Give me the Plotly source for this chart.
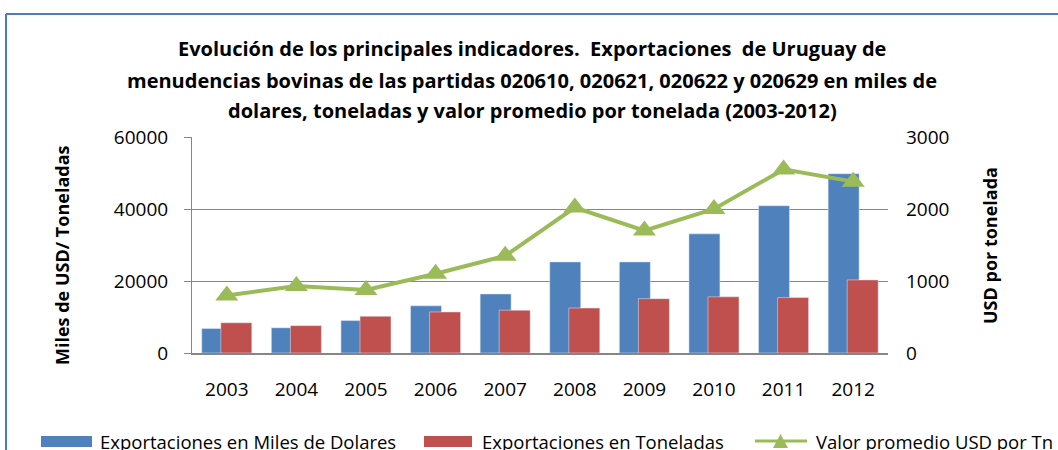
import plotly.graph_objects as go

years = ['2003', '2004', '2005', '2006', '2007', '2008', '2009', '2010', '2011', '2012']
miles_usd = [6800, 7000, 9000, 13100, 16400, 25300, 25300, 33100, 40900, 49800]
toneladas = [8400, 7600, 10200, 11400, 11900, 12500, 15100, 15600, 15400, 20300]
valor_promedio = [800, 930, 875, 1100, 1350, 2020, 1700, 2000, 2550, 2380]

title_lines = [
    "Evolución de los principales indicadores.  Exportaciones  de Uruguay de",
    "menudencias bovinas de las partidas 020610, 020621, 020622 y 020629 en miles de",
    "dolares, toneladas y valor promedio por tonelada (2003-2012)",
]
legend_names = ["Exportaciones en Miles de Dolares", "Exportaciones en Toneladas", "Valor promedio USD por Tn"]

BLUE = '#4F81BD'
RED = '#C0504D'
GREEN = '#9BBB59'
GRID = '#868686'
FONT = 'Open Sans'

W, H = 1058, 450
L, R, T, B = 192, 888, 137, 353


def px(x):
    return (x - L) / (R - L)


def py(y):
    return (B - y) / (B - T)


fig = go.Figure()
fig.add_trace(go.Bar(x=years, y=miles_usd, name=legend_names[0], marker_color=BLUE,
                     width=0.445, offset=-0.36, showlegend=False))
fig.add_trace(go.Bar(x=years, y=toneladas, name=legend_names[1], marker_color=RED,
                     width=0.445, offset=-0.086, showlegend=False))
fig.add_trace(go.Scatter(x=years, y=valor_promedio, name=legend_names[2], yaxis='y2',
                         mode='lines+markers', line=dict(color=GREEN, width=4),
                         marker=dict(symbol='triangle-up', size=20, color=GREEN),
                         showlegend=False))

shapes = [
    dict(type='line', xref='paper', yref='paper', x0=px(6), x1=px(1060), y0=py(14), y1=py(14),
         line=dict(color='#4A7EBB', width=2)),
    dict(type='line', xref='paper', yref='paper', x0=px(6), x1=px(6), y0=py(14), y1=py(452),
         line=dict(color='#4A7EBB', width=2)),
    dict(type='rect', xref='paper', yref='paper', x0=px(41), x1=px(92), y0=py(436), y1=py(447),
         fillcolor=BLUE, line=dict(width=0)),
    dict(type='rect', xref='paper', yref='paper', x0=px(424), x1=px(472), y0=py(436), y1=py(447),
         fillcolor=RED, line=dict(width=0)),
    dict(type='line', xref='paper', yref='paper', x0=px(755), x1=px(807), y0=py(441), y1=py(441),
         line=dict(color=GREEN, width=3)),
    dict(type='path', xref='paper', yref='paper',
         path='M {} {} L {} {} L {} {} Z'.format(px(773), py(448), px(788), py(448), px(780.5), py(434)),
         fillcolor=GREEN, line=dict(width=0)),
]

annotations = []
for i, (line, yc) in enumerate(zip(title_lines, [48, 80, 110])):
    annotations.append(dict(text='<b>' + line + '</b>', xref='paper', yref='paper',
                            x=px(532), y=py(yc), xanchor='center', yanchor='middle',
                            showarrow=False, font=dict(family=FONT, size=20, color='#000')))
annotations.append(dict(text='<b>Miles de USD/ Toneladas</b>', xref='paper', yref='paper',
                        x=px(62), y=py(255), textangle=-90, xanchor='center', yanchor='middle',
                        showarrow=False, font=dict(family=FONT, size=18, color='#000')))
annotations.append(dict(text='<b>USD por tonelada</b>', xref='paper', yref='paper',
                        x=px(990), y=py(246), textangle=-90, xanchor='center', yanchor='middle',
                        showarrow=False, font=dict(family=FONT, size=18, color='#000')))
for name, x0 in zip(legend_names, [98, 480, 814]):
    annotations.append(dict(text=name, xref='paper', yref='paper', x=px(x0), y=py(441),
                            xanchor='left', yanchor='middle', showarrow=False,
                            font=dict(family=FONT, size=18.5, color='#000')))

tick_font = dict(family=FONT, size=19, color='#000')
fig.update_layout(
    width=W, height=H, autosize=False,
    margin=dict(l=L, r=W - R, t=T, b=H - B, pad=0),
    paper_bgcolor='white', plot_bgcolor='white',
    barmode='overlay',
    font=dict(family=FONT, size=18, color='#000'),
    xaxis=dict(type='category', range=[-0.5, 9.5], showline=True, linecolor=GRID, linewidth=2,
               ticks='', showgrid=False, ticklabelstandoff=18, tickfont=tick_font),
    yaxis=dict(range=[0, 60000], dtick=20000, tickformat='d', showgrid=True, gridcolor=GRID,
               gridwidth=1, showline=True, linecolor=GRID, linewidth=1, ticks='outside',
               ticklen=7, tickcolor=GRID, zeroline=False, ticklabelstandoff=12,
               tickfont=tick_font),
    yaxis2=dict(range=[0, 3000], dtick=1000, tickformat='d', overlaying='y', side='right',
                showgrid=False, showline=False, ticks='', zeroline=False,
                ticklabelstandoff=17, tickfont=tick_font),
    shapes=shapes,
    annotations=annotations,
)

fig.write_html("out.html", config={'displayModeBar': False},
               post_script="document.body.style.margin='0';document.body.style.overflow='hidden';")
